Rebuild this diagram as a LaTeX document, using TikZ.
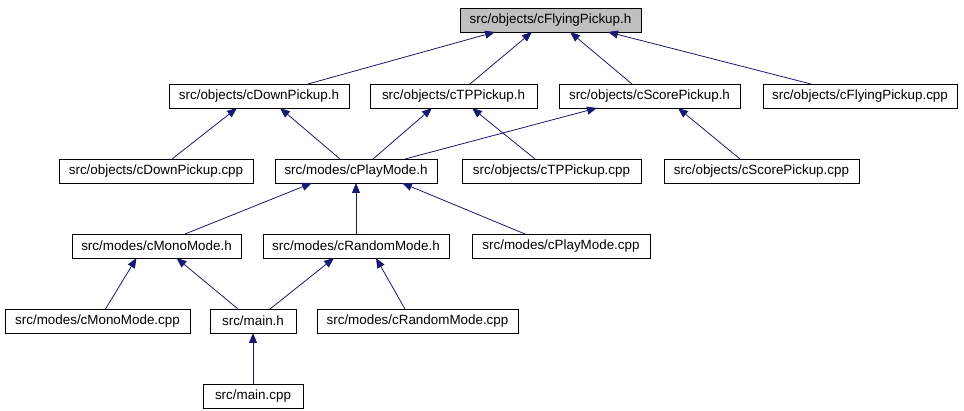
\documentclass[tikz,border=0pt]{standalone}
\usepackage{fontspec}
\setmainfont{Liberation Sans}
\usetikzlibrary{arrows.meta}
\definecolor{edgeblue}{RGB}{25,25,112}
\definecolor{topgray}{RGB}{191,191,191}
\begin{document}
\begin{tikzpicture}[x=1pt,y=-1pt,
  box/.style={draw=black, line width=0.8pt, minimum height=24pt, inner sep=0pt, outer sep=0pt, font=\fontsize{13.4}{16}\selectfont, text=black},
  edge/.style={draw=edgeblue, line width=0.8pt, -{Triangle[length=10pt,width=8pt]}}]
\useasboundingbox (0,0) rectangle (964,411);
\node[box, fill=topgray, minimum width=181pt] (top) at (550.5,20) {src/objects/cFlyingPickup.h};
\node[box, minimum width=180pt] (dph) at (259,96) {src/objects/cDownPickup.h};
\node[box, minimum width=167pt] (tph) at (453.5,96) {src/objects/cTPPickup.h};
\node[box, minimum width=181pt] (sph) at (649.5,96) {src/objects/cScorePickup.h};
\node[box, minimum width=194pt] (fpc) at (860,96) {src/objects/cFlyingPickup.cpp};
\node[box, minimum width=194pt] (dpc) at (156,171) {src/objects/cDownPickup.cpp};
\node[box, minimum width=162pt] (pmh) at (356,171) {src/modes/cPlayMode.h};
\node[box, minimum width=179pt] (tpc) at (551.5,171) {src/objects/cTPPickup.cpp};
\node[box, minimum width=195pt] (spc) at (761.5,171) {src/objects/cScorePickup.cpp};
\node[box, minimum width=169pt] (mmh) at (156.5,246) {src/modes/cMonoMode.h};
\node[box, minimum width=186pt] (rmh) at (356,246) {src/modes/cRandomMode.h};
\node[box, minimum width=178pt] (pmc) at (561,246) {src/modes/cPlayMode.cpp};
\node[box, minimum width=185pt] (mmc) at (97.5,321) {src/modes/cMonoMode.cpp};
\node[box, minimum width=86pt] (mh) at (253,321) {src/main.h};
\node[box, minimum width=201pt] (rmc) at (417.5,321) {src/modes/cRandomMode.cpp};
\node[box, minimum width=100pt] (mc) at (253,396) {src/main.cpp};
\draw[edge] ([xshift=49pt]dph.north) -- ([xshift=-55.5pt]top.south);
\draw[edge] ([xshift=16.5pt]tph.north) -- ([xshift=-18.5pt]top.south);
\draw[edge] ([xshift=-17.5pt]sph.north) -- ([xshift=19.5pt]top.south);
\draw[edge] ([xshift=-49pt]fpc.north) -- ([xshift=57.5pt]top.south);
\draw[edge] ([xshift=16pt]dpc.north) -- ([xshift=-22pt]dph.south);
\draw[edge] ([xshift=-16pt]pmh.north) -- ([xshift=21pt]dph.south);
\draw[edge] ([xshift=17pt]pmh.north) -- ([xshift=-21.5pt]tph.south);
\draw[edge] ([xshift=49pt]pmh.north) -- ([xshift=-52.5pt]sph.south);
\draw[edge] ([xshift=-16.5pt]tpc.north) -- ([xshift=18.5pt]tph.south);
\draw[edge] ([xshift=-21.5pt]spc.north) -- ([xshift=28.5pt]sph.south);
\draw[edge] ([xshift=28.5pt]mmh.north) -- ([xshift=-44pt]pmh.south);
\draw[edge] (rmh.north) -- (pmh.south);
\draw[edge] ([xshift=-36pt]pmc.north) -- ([xshift=46pt]pmh.south);
\draw[edge] ([xshift=8pt]mmc.north) -- ([xshift=-20pt]mmh.south);
\draw[edge] ([xshift=-15pt]mh.north) -- ([xshift=20pt]mmh.south);
\draw[edge] ([xshift=17pt]mh.north) -- ([xshift=-22pt]rmh.south);
\draw[edge] ([xshift=-12.5pt]rmc.north) -- ([xshift=20pt]rmh.south);
\draw[edge] (mc.north) -- (mh.south);
\end{tikzpicture}
\end{document}
